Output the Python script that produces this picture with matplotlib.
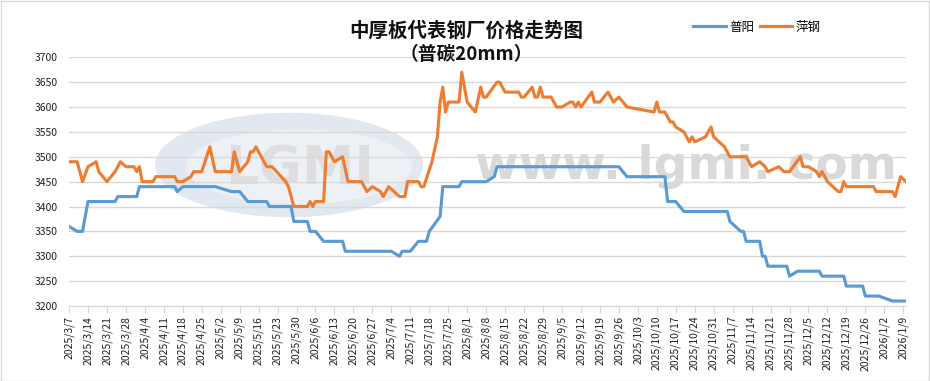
import matplotlib
matplotlib.use("Agg")
import matplotlib.pyplot as plt
import matplotlib.dates as mdates
from matplotlib.patches import Ellipse, Rectangle
import pandas as pd

plt.rcParams['font.family'] = ['Noto Sans CJK SC', 'DejaVu Sans']

title = "中厚板代表钢厂价格走势图"
subtitle = "（普碳20mm）"
series_names = ["普阳", "萍钢"]

puyang_dates = ["2025-03-07", "2025-03-10", "2025-03-12", "2025-03-14", "2025-03-24", "2025-03-25",
                "2025-04-01", "2025-04-02", "2025-04-15", "2025-04-16", "2025-04-18", "2025-04-30",
                "2025-05-06", "2025-05-09", "2025-05-12", "2025-05-19", "2025-05-20", "2025-05-28",
                "2025-05-29", "2025-06-03", "2025-06-04", "2025-06-06", "2025-06-09", "2025-06-16",
                "2025-06-17", "2025-07-04", "2025-07-07", "2025-07-08", "2025-07-11", "2025-07-14",
                "2025-07-17", "2025-07-18", "2025-07-22", "2025-07-23", "2025-07-29", "2025-07-30",
                "2025-08-08", "2025-08-11", "2025-08-12", "2025-09-26", "2025-09-29", "2025-10-13",
                "2025-10-14", "2025-10-17", "2025-10-20", "2025-11-05", "2025-11-06", "2025-11-10",
                "2025-11-11", "2025-11-12", "2025-11-17", "2025-11-18", "2025-11-19", "2025-11-20",
                "2025-11-27", "2025-11-28", "2025-12-01", "2025-12-09", "2025-12-10", "2025-12-18",
                "2025-12-19", "2025-12-25", "2025-12-26", "2025-12-31", "2026-01-05", "2026-01-10"]
puyang_values = [3360, 3350, 3350, 3410, 3410, 3420,
                 3420, 3440, 3440, 3430, 3440, 3440,
                 3430, 3430, 3410, 3410, 3400, 3400,
                 3370, 3370, 3350, 3350, 3330, 3330,
                 3310, 3310, 3300, 3310, 3310, 3330,
                 3330, 3350, 3380, 3440, 3440, 3450,
                 3450, 3460, 3480, 3480, 3460, 3460,
                 3410, 3410, 3390, 3390, 3370, 3350,
                 3350, 3330, 3330, 3300, 3300, 3280,
                 3280, 3260, 3270, 3270, 3260, 3260,
                 3240, 3240, 3220, 3220, 3210, 3210]

pinggang_dates = ["2025-03-07", "2025-03-10", "2025-03-12", "2025-03-14", "2025-03-17", "2025-03-18",
                  "2025-03-21", "2025-03-24", "2025-03-26", "2025-03-28", "2025-03-31", "2025-04-01",
                  "2025-04-02", "2025-04-03", "2025-04-07", "2025-04-08", "2025-04-15", "2025-04-16",
                  "2025-04-18", "2025-04-21", "2025-04-22", "2025-04-25", "2025-04-28", "2025-04-30",
                  "2025-05-06", "2025-05-07", "2025-05-09", "2025-05-12", "2025-05-13", "2025-05-14",
                  "2025-05-15", "2025-05-16", "2025-05-19", "2025-05-21", "2025-05-26", "2025-05-27",
                  "2025-05-29", "2025-06-03", "2025-06-04", "2025-06-05", "2025-06-06", "2025-06-09",
                  "2025-06-10", "2025-06-11", "2025-06-13", "2025-06-16", "2025-06-18", "2025-06-23",
                  "2025-06-25", "2025-06-27", "2025-06-30", "2025-07-01", "2025-07-03", "2025-07-05",
                  "2025-07-07", "2025-07-09", "2025-07-10", "2025-07-14", "2025-07-15", "2025-07-16",
                  "2025-07-19", "2025-07-21", "2025-07-22", "2025-07-23", "2025-07-24", "2025-07-25",
                  "2025-07-29", "2025-07-30", "2025-08-01", "2025-08-04", "2025-08-06", "2025-08-07",
                  "2025-08-08", "2025-08-12", "2025-08-13", "2025-08-15", "2025-08-20", "2025-08-21",
                  "2025-08-22", "2025-08-25", "2025-08-26", "2025-08-27", "2025-08-28", "2025-08-29",
                  "2025-09-01", "2025-09-03", "2025-09-05", "2025-09-08", "2025-09-09", "2025-09-10",
                  "2025-09-11", "2025-09-12", "2025-09-16", "2025-09-17", "2025-09-19", "2025-09-22",
                  "2025-09-24", "2025-09-26", "2025-09-29", "2025-10-09", "2025-10-10", "2025-10-11",
                  "2025-10-13", "2025-10-15", "2025-10-16", "2025-10-17", "2025-10-20", "2025-10-22",
                  "2025-10-23", "2025-10-24", "2025-10-28", "2025-10-29", "2025-10-30", "2025-10-31",
                  "2025-11-02", "2025-11-04", "2025-11-06", "2025-11-12", "2025-11-14", "2025-11-17",
                  "2025-11-19", "2025-11-20", "2025-11-24", "2025-11-26", "2025-11-28", "2025-12-02",
                  "2025-12-03", "2025-12-05", "2025-12-08", "2025-12-09", "2025-12-10", "2025-12-12",
                  "2025-12-14", "2025-12-16", "2025-12-17", "2025-12-18", "2025-12-19", "2025-12-29",
                  "2025-12-30", "2026-01-05", "2026-01-06", "2026-01-08", "2026-01-10"]
pinggang_values = [3490, 3490, 3450, 3480, 3490, 3470,
                   3450, 3470, 3490, 3480, 3480, 3470,
                   3480, 3450, 3450, 3460, 3460, 3450,
                   3450, 3460, 3470, 3470, 3520, 3470,
                   3470, 3510, 3470, 3490, 3510, 3510,
                   3520, 3510, 3480, 3480, 3450, 3440,
                   3400, 3400, 3410, 3400, 3410, 3410,
                   3510, 3510, 3490, 3500, 3450, 3450,
                   3430, 3440, 3430, 3420, 3440, 3430,
                   3420, 3420, 3450, 3450, 3440, 3440,
                   3490, 3540, 3610, 3640, 3590, 3610,
                   3610, 3670, 3610, 3590, 3640, 3620,
                   3620, 3650, 3650, 3630, 3630, 3620,
                   3620, 3640, 3620, 3620, 3640, 3620,
                   3620, 3600, 3600, 3610, 3610, 3600,
                   3610, 3600, 3630, 3610, 3610, 3630,
                   3610, 3620, 3600, 3590, 3610, 3590,
                   3590, 3570, 3570, 3560, 3550, 3530,
                   3540, 3530, 3540, 3550, 3560, 3540,
                   3530, 3520, 3500, 3500, 3480, 3490,
                   3480, 3470, 3480, 3470, 3470, 3500,
                   3480, 3480, 3470, 3460, 3470, 3450,
                   3440, 3430, 3430, 3450, 3440, 3440,
                   3430, 3430, 3420, 3460, 3450]

tick_dates = pd.date_range("2025-03-07", "2026-01-09", freq="7D")
tick_labels = [f"{d.year}/{d.month}/{d.day}" for d in tick_dates]
y_ticks = list(range(3200, 3701, 50))

W, H = 930, 381
fig = plt.figure(figsize=(W / 100, H / 100), dpi=100)
ax = fig.add_axes([69 / W, (H - 306) / H, (906 - 69) / W, (306 - 57.3) / H])

# watermark (LGMI logo + url), light and behind data
ax.add_patch(Ellipse((0.263, 0.567), 0.32, 0.42, transform=ax.transAxes,
                     facecolor="#dde4ee", edgecolor="none", alpha=0.85, zorder=0))
ax.add_patch(Ellipse((0.275, 0.56), 0.27, 0.30, transform=ax.transAxes,
                     facecolor="#eef2f7", edgecolor="none", alpha=0.95, zorder=0))
ax.text(0.275, 0.55, "LGMI", transform=ax.transAxes, ha="center", va="center",
        fontsize=38, fontweight="bold", color="#dedede", family="DejaVu Sans", zorder=0)
ax.text(0.737, 0.56, "www. lgmi. com", transform=ax.transAxes, ha="center", va="center",
        fontsize=34, fontweight="bold", color="#d9d9d9", family="DejaVu Sans", zorder=0)

x_p = pd.to_datetime(puyang_dates)
x_q = pd.to_datetime(pinggang_dates)
ax.plot(x_p, puyang_values, color="#5B9BD5", lw=2.25, label=series_names[0], zorder=3,
        solid_joinstyle="round")
ax.plot(x_q, pinggang_values, color="#ED7D31", lw=2.25, label=series_names[1], zorder=3,
        solid_joinstyle="round")

ax.set_ylim(3200, 3700)
ax.set_yticks(y_ticks)
ax.set_xlim(pd.Timestamp("2025-03-07"), pd.Timestamp("2026-01-10"))
ax.set_xticks(tick_dates)
ax.set_xticklabels(tick_labels, rotation=90, fontsize=7.5, color="#222222")
for lab in ax.get_yticklabels():
    lab.set_fontsize(7.5)
    lab.set_color("#222222")

ax.grid(axis="y", color="#d9d9d9", lw=1)
ax.set_axisbelow(True)
for s in ["top", "right", "left"]:
    ax.spines[s].set_visible(False)
ax.spines["bottom"].set_color("#d9d9d9")
ax.tick_params(axis="y", length=0, pad=8)
ax.tick_params(axis="x", length=5, color="#d9d9d9", pad=2)

fig.text(466 / W, 1 - 31 / H, title, ha="center", va="center", fontsize=14,
         fontweight="bold", color="#111111")
fig.text(466 / W, 1 - 55 / H, subtitle, ha="center", va="center", fontsize=13.5,
         fontweight="bold", color="#111111")

leg = fig.legend(loc="center", bbox_to_anchor=(757 / W, 1 - 27 / H), ncol=2, frameon=False,
                 fontsize=9, handlelength=2.6, handletextpad=0.3, columnspacing=0.4)

fig.add_artist(Rectangle((0.5 / W, 0.5 / H), 1 - 1.5 / W, 1 - 1.5 / H, transform=fig.transFigure,
                         fill=False, edgecolor="#d9d9d9", lw=1))

fig.savefig("out.png", dpi=100)
